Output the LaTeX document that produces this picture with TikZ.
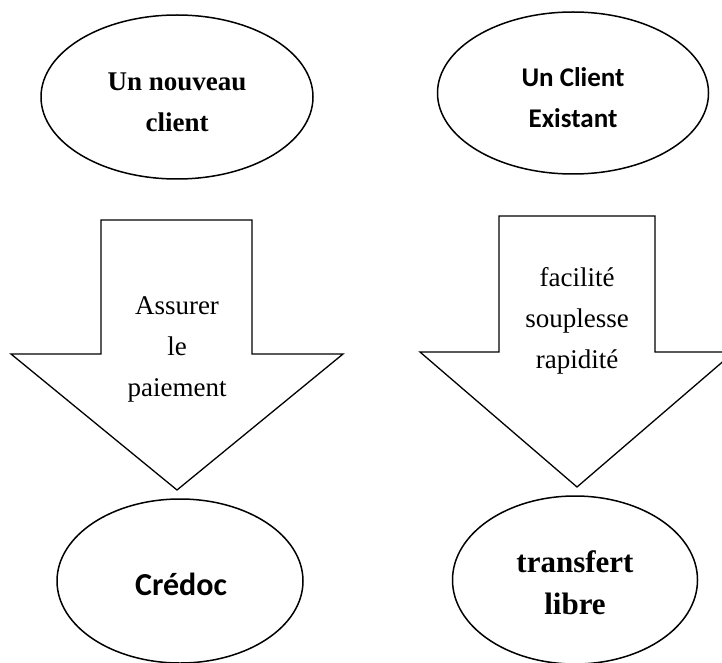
\documentclass[tikz,border=0pt]{standalone}
\usepackage{fontspec}
\setmainfont{Liberation Serif}
\newfontfamily\calibri{Carlito}
\usetikzlibrary{shapes.geometric}
\begin{document}
\begin{tikzpicture}[x=1pt,y=-1pt,
  bulle/.style={draw, ellipse, line width=1.5pt, inner sep=0pt},
  fleche/.style={draw, line width=1.3pt, line join=miter},
  texte/.style={align=center, inner sep=0pt, font=\fontsize{27}{41}\selectfont}]
\useasboundingbox (0,0) rectangle (722,663);
\clip (0,0) rectangle (722,663);
%
% Clients
\node [bulle, minimum width=272pt, minimum height=164pt] (nouveau)  at (177,97) {};
\node [bulle, minimum width=271pt, minimum height=162pt] (existant) at (573,93) {};
\node [texte, font=\bfseries\fontsize{27}{41}\selectfont] (nouveau-t) at (177,102) {Un nouveau\\client};
\node [texte, font=\calibri\bfseries\fontsize{27}{41}\selectfont] (existant-t) at (573,98) {Un Client\\Existant};
%
% Fleches
\draw [fleche]   (101,220) -- (252,220)
            -- (252,354) -- (343,354)
            -- (177,490) -- (11,354)
            -- (101,354) -- cycle;
\draw [fleche]   (499,216) -- (655,216)
            -- (655,352) -- (734,352)
            -- (577,487) -- (420,352)
            -- (499,352) -- cycle;
\node [texte] (paiement) at (177,349) {Assurer\\le\\paiement};
\node [texte] (qualites) at (577,321) {facilit\'e\\souplesse\\rapidit\'e};
%
% Solutions
\node [bulle, minimum width=246pt, minimum height=164pt] (credoc)    at (180,581) {};
\node [bulle, minimum width=245pt, minimum height=168pt] (transfert) at (575,580) {};
\node [texte, font=\calibri\bfseries\fontsize{32}{42}\selectfont] (credoc-t) at (181,584) {Cr\'edoc};
\node [texte, font=\bfseries\fontsize{31}{42}\selectfont] (transfert-t) at (575,583) {transfert\\libre};
%
\end{tikzpicture}
\end{document}
